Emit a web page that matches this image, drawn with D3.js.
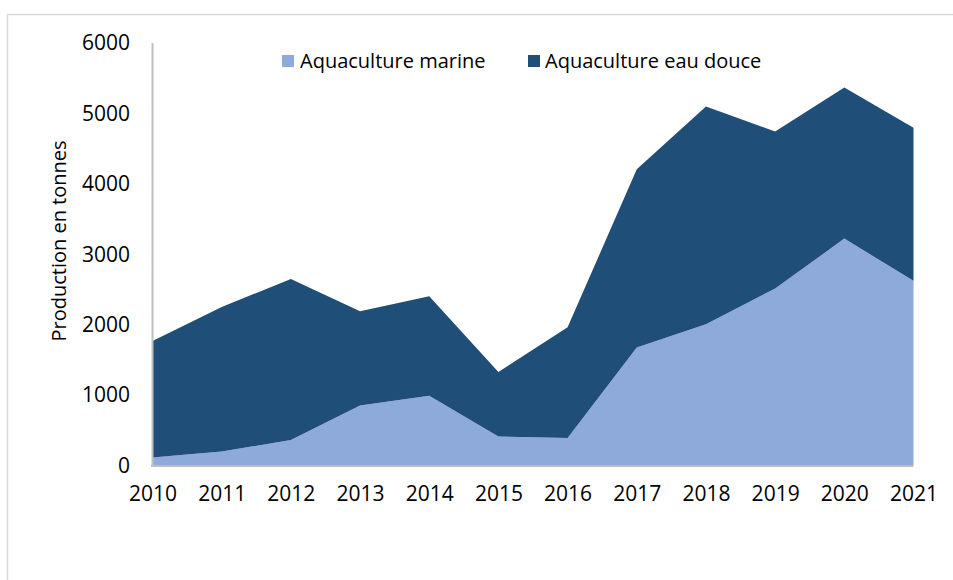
<!DOCTYPE html>
<html>
<head>
<meta charset="utf-8">
<script src="https://cdn.jsdelivr.net/npm/d3@7/dist/d3.min.js"></script>
<style>
  html, body { margin: 0; padding: 0; background: #fff; }
  svg { display: block; }
  text { font-family: "Open Sans", "Noto Sans", sans-serif; fill: #000; }
</style>
</head>
<body>
<svg id="chart" width="953" height="580"></svg>
<script>
// Production aquacole (tonnes), 2010–2021
const years = ["2010","2011","2012","2013","2014","2015","2016","2017","2018","2019","2020","2021"];
const marine = [105, 190, 355, 845, 985, 405, 385, 1670, 2000, 2505, 3215, 2615];
const eauDouce = [1655, 2055, 2285, 1340, 1410, 915, 1570, 2530, 3090, 2230, 2145, 2175];
const seriesNames = ["Aquaculture marine", "Aquaculture eau douce"];
const seriesColors = ["#8eaadb", "#1f4e79"];
const yTicks = [0, 1000, 2000, 3000, 4000, 5000, 6000];

const FONT = "'Open Sans', 'Noto Sans', sans-serif";
const svg = d3.select("#chart");

// outer chart frame
svg.append("rect")
  .attr("x", 7.5).attr("y", 14.5)
  .attr("width", 960).attr("height", 600)
  .attr("fill", "none").attr("stroke", "#d9d9d9").attr("stroke-width", 1.5);

const x = d3.scalePoint().domain(years).range([152.5, 913.5]);
const y = d3.scaleLinear().domain([0, 6000]).range([465, 42.5]);

const rows = years.map((yr, i) => ({ year: yr, marine: marine[i], eauDouce: eauDouce[i] }));
const stacked = d3.stack().keys(["marine", "eauDouce"])(rows);

const area = d3.area()
  .x(d => x(d.data.year))
  .y0(d => y(d[0]))
  .y1(d => y(d[1]));

svg.append("g").selectAll("path")
  .data(stacked)
  .join("path")
  .attr("d", area)
  .attr("fill", (d, i) => seriesColors[i]);

// y axis
const yAxis = svg.append("g")
  .attr("transform", `translate(${x.range()[0] - 0.5},0)`)
  .call(d3.axisLeft(y).tickValues(yTicks).tickSize(0).tickPadding(22).tickFormat(d3.format("d")));
yAxis.select(".domain").attr("stroke", "#bfbfbf").attr("stroke-width", 2);
yAxis.selectAll("text").attr("font-size", 21).attr("dy", "0.35em")
  .style("font-family", FONT);

// x axis
const xAxis = svg.append("g")
  .attr("transform", `translate(0,${y(0) + 1})`)
  .call(d3.axisBottom(x).tickSize(0).tickPadding(20));
xAxis.select(".domain").attr("stroke", "#bfbfbf").attr("stroke-width", 2)
  .attr("d", `M${x.range()[0] - 1.5},0H${x.range()[1]}`);
xAxis.selectAll("text").attr("font-size", 21)
  .style("font-family", FONT);

// y axis title
svg.append("text")
  .attr("transform", "translate(66,241) rotate(-90)")
  .attr("text-anchor", "middle")
  .attr("font-size", 20)
  .text("Production en tonnes");

// legend
const legendItems = [
  { name: seriesNames[0], color: seriesColors[0], sx: 282, tx: 300 },
  { name: seriesNames[1], color: seriesColors[1], sx: 528, tx: 545 }
];
const lg = svg.append("g");
legendItems.forEach(it => {
  lg.append("rect").attr("x", it.sx).attr("y", 55).attr("width", 12).attr("height", 12).attr("fill", it.color);
  lg.append("text").attr("x", it.tx).attr("y", 61).attr("dy", "0.35em")
    .attr("font-size", 20).text(it.name);
});
</script>
</body>
</html>
